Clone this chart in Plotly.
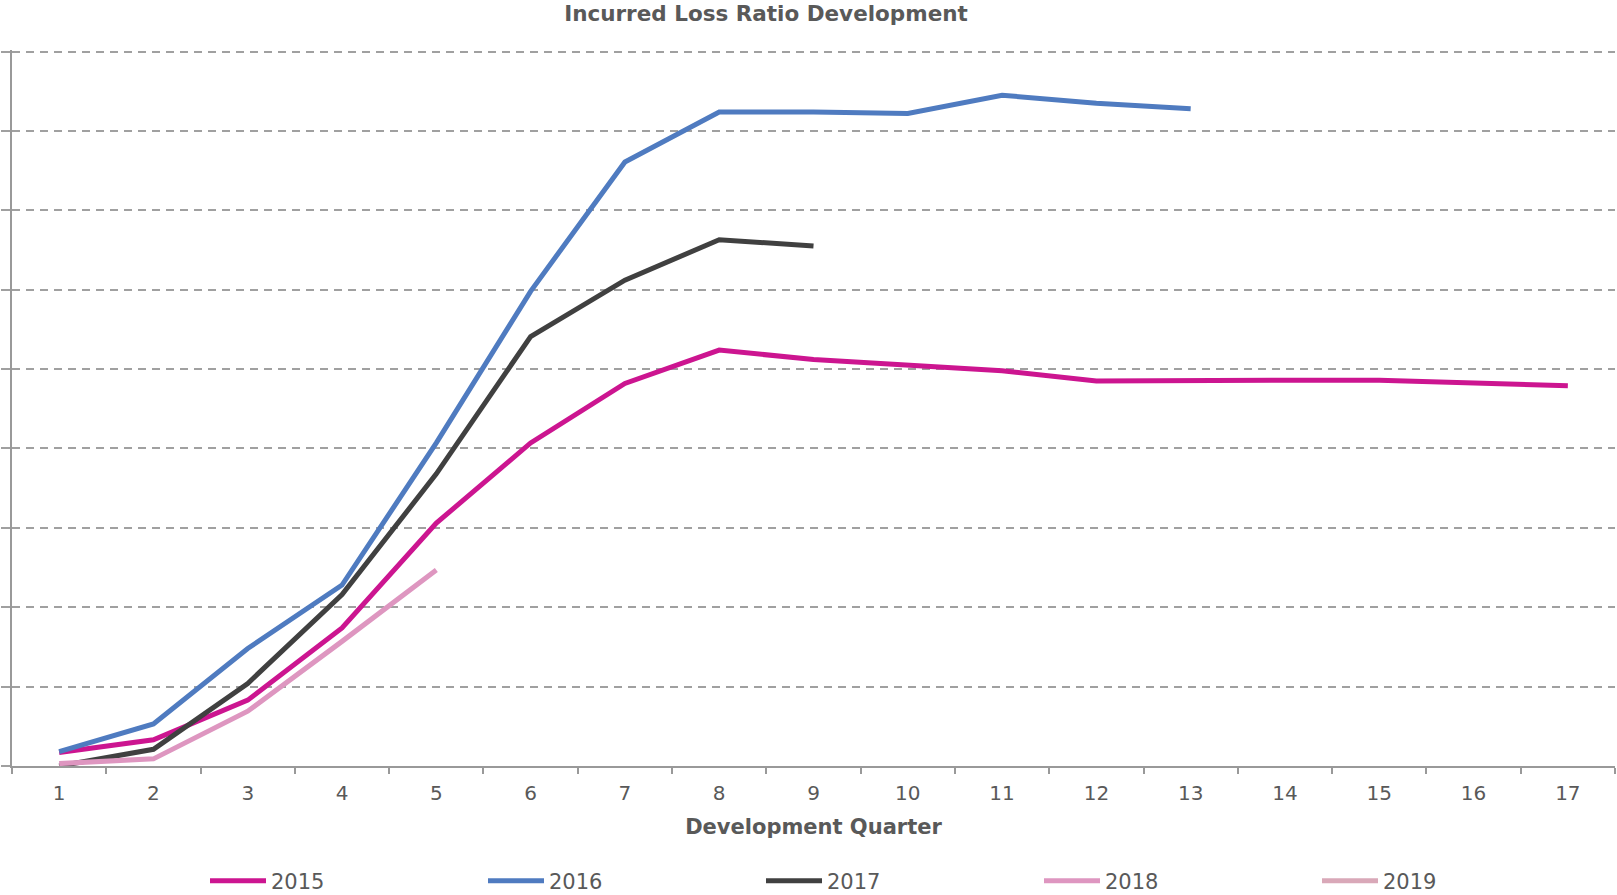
import plotly.graph_objects as go

quarters = [str(i) for i in range(1, 18)]

y2015 = [1.7, 3.3, 8.3, 17.4, 30.6, 40.7, 48.2, 52.4, 51.2, 50.5, 49.8, 48.5, 48.6, 48.6, 48.6, 48.2, 47.9]
y2016 = [1.8, 5.3, 14.8, 22.8, 40.7, 59.8, 76.1, 82.4, 82.4, 82.2, 84.5, 83.5, 82.8]
y2017 = [0.0, 2.1, 10.4, 21.6, 36.8, 54.1, 61.2, 66.3, 65.5]
y2018 = [0.3, 0.9, 6.9, 15.7, 24.7]
y2019 = [0.2]

series = [
    ("2015", y2015, "#CC1590"),
    ("2016", y2016, "#4F7BC0"),
    ("2017", y2017, "#404040"),
    ("2018", y2018, "#DE96C0"),
    ("2019", y2019, "#D9A8B8"),
]

fig = go.Figure()
for name, ys, color in series:
    fig.add_trace(go.Scatter(
        x=quarters[:len(ys)], y=ys, name=name, mode="lines",
        line=dict(color=color, width=5),
    ))

FONT = "DejaVu Sans, Verdana, sans-serif"
GRAY_TXT = "#595959"

fig.update_layout(
    width=1617, height=895,
    margin=dict(l=12, r=2, t=50, b=129),
    paper_bgcolor="white", plot_bgcolor="white",
    font=dict(family=FONT, color=GRAY_TXT, size=20),
    title=dict(
        text="<b>Incurred Loss Ratio Development</b>",
        x=766 / 1617, xanchor="center", xref="container",
        y=1 - 13 / 895, yanchor="middle", yref="container",
        font=dict(family=FONT, size=21.5, color=GRAY_TXT),
    ),
    xaxis=dict(
        type="category", categoryorder="array", categoryarray=quarters,
        range=[-0.5, 16.5],
        showline=True, linecolor="#999999", linewidth=2,
        ticks="outside", tickson="boundaries", ticklen=6, tickcolor="#999999", tickwidth=1.5,
        ticklabelstandoff=8,
        showgrid=False,
        tickfont=dict(size=20, color=GRAY_TXT, family=FONT),
        title=dict(text="<b>Development Quarter</b>", standoff=15,
                   font=dict(size=21, color=GRAY_TXT, family=FONT)),
    ),
    yaxis=dict(
        range=[0, 90.2], dtick=10, tick0=0,
        showline=True, linecolor="#999999", linewidth=2,
        ticks="outside", ticklen=9, tickcolor="#A0A0A0", tickwidth=1.5,
        showticklabels=False,
        showgrid=True, gridcolor="#A0A0A0", gridwidth=1.5, griddash="8px,6px",
        zeroline=False,
    ),
    showlegend=True,
    legend=dict(
        orientation="h",
        xref="container", yref="container",
        x=205 / 1617, xanchor="left",
        y=1 - 881 / 895, yanchor="middle",
        entrywidth=207, entrywidthmode="pixels",
        itemwidth=56,
        font=dict(size=21, color=GRAY_TXT, family=FONT),
        bgcolor="rgba(0,0,0,0)",
    ),
)

fig.write_html("out.html")
